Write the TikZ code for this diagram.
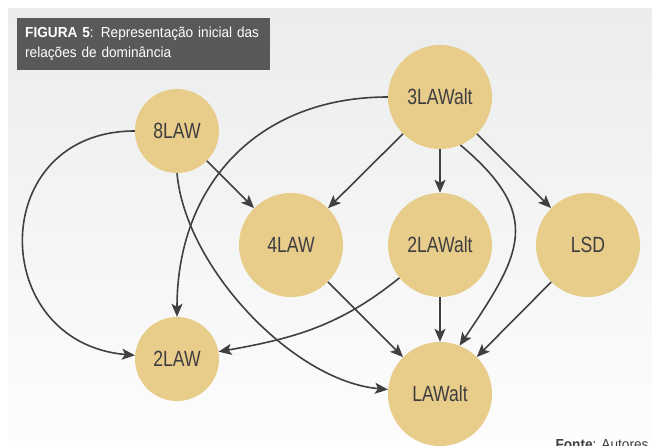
\documentclass[tikz,border=0pt]{standalone}
\usepackage{fontspec}
\setmainfont{Liberation Sans}
\newfontfamily\nodefont[FakeStretch=0.8]{Liberation Sans}
\newfontfamily\titlefont[FakeStretch=0.94]{Liberation Sans}
\usepackage{tikz}
\usetikzlibrary{arrows.meta}

\definecolor{nodefill}{RGB}{232,204,138}
\definecolor{linegray}{RGB}{64,64,66}
\definecolor{boxgray}{RGB}{88,89,91}
\definecolor{bgtop}{RGB}{235,236,236}
\definecolor{bgbottom}{RGB}{253,253,253}
\definecolor{textgray}{RGB}{62,62,64}

\tikzset{
  bignode/.style={circle, fill=nodefill, minimum size=104pt, inner sep=0pt,
    text=textgray, font=\nodefont\fontsize{22}{26}\selectfont},
  smallnode/.style={bignode, minimum size=84pt},
  dom/.style={draw=linegray, line width=1.6pt,
    -{Stealth[length=13pt,width=11pt,inset=3pt]}},
  titlebox/.style={fill=boxgray, text=white, align=left, anchor=north west,
    minimum width=253pt, minimum height=52pt, text width=237pt, inner xsep=8pt,
    inner ysep=4pt, font=\titlefont\fontsize{14.5}{20}\selectfont}
}

\begin{document}
\begin{tikzpicture}[x=1pt,y=1pt]
          \useasboundingbox (0,0) rectangle (652,-445);
          % background
          \fill[white] (0,0) rectangle (652,-445);
          \shade[top color=bgtop, bottom color=bgbottom] (8,-8) rectangle (652,-445);
          % caption box
          \node[titlebox] (title) at (17,-18) {\textbf{FIGURA 5}: Representação inicial das\\relações de dominância};
          % alternatives
          \node[smallnode] (law8) at (177,-131) {8LAW};
          \node[bignode] (law3alt) at (440,-97) {3LAWalt};
          \node[bignode] (law4) at (291,-245) {4LAW};
          \node[bignode] (law2alt) at (440,-245) {2LAWalt};
          \node[bignode] (lsd) at (588,-245) {LSD};
          \node[smallnode] (law2) at (177,-359) {2LAW};
          \node[bignode] (lawalt) at (440,-394) {LAWalt};
          % dominance from 8LAW
          \draw[dom] (law8) -- (law4);
          \draw[dom] (law8) to[out=180, in=175, looseness=1.7] (law2);
          \draw[dom] (law8.south) to[out=-85, in=175, looseness=0.8] (lawalt);
          % dominance from 3LAWalt
          \draw[dom] (law3alt) to[out=180, in=90, looseness=1.1] (law2);
          \draw[dom] (law3alt) -- (law4);
          \draw[dom] (law3alt) -- (law2alt);
          \draw[dom] (law3alt) -- (lsd);
          \draw[dom] (law3alt.-67) to[out=-40, in=56, looseness=1.4] (lawalt.68);
          % dominance into LAWalt and 2LAW
          \draw[dom] (law4) -- (lawalt);
          \draw[dom] (law2alt) -- (lawalt);
          \draw[dom] (lsd) -- (lawalt);
          \draw[dom] (law2alt) to[out=-141, in=10] (law2);
          % source
          \node[anchor=north west, text=textgray, font=\titlefont\fontsize{14.5}{17}\selectfont] (fonte) at (552,-436) {\textbf{Fonte}: Autores};
        \end{tikzpicture}
\end{document}
